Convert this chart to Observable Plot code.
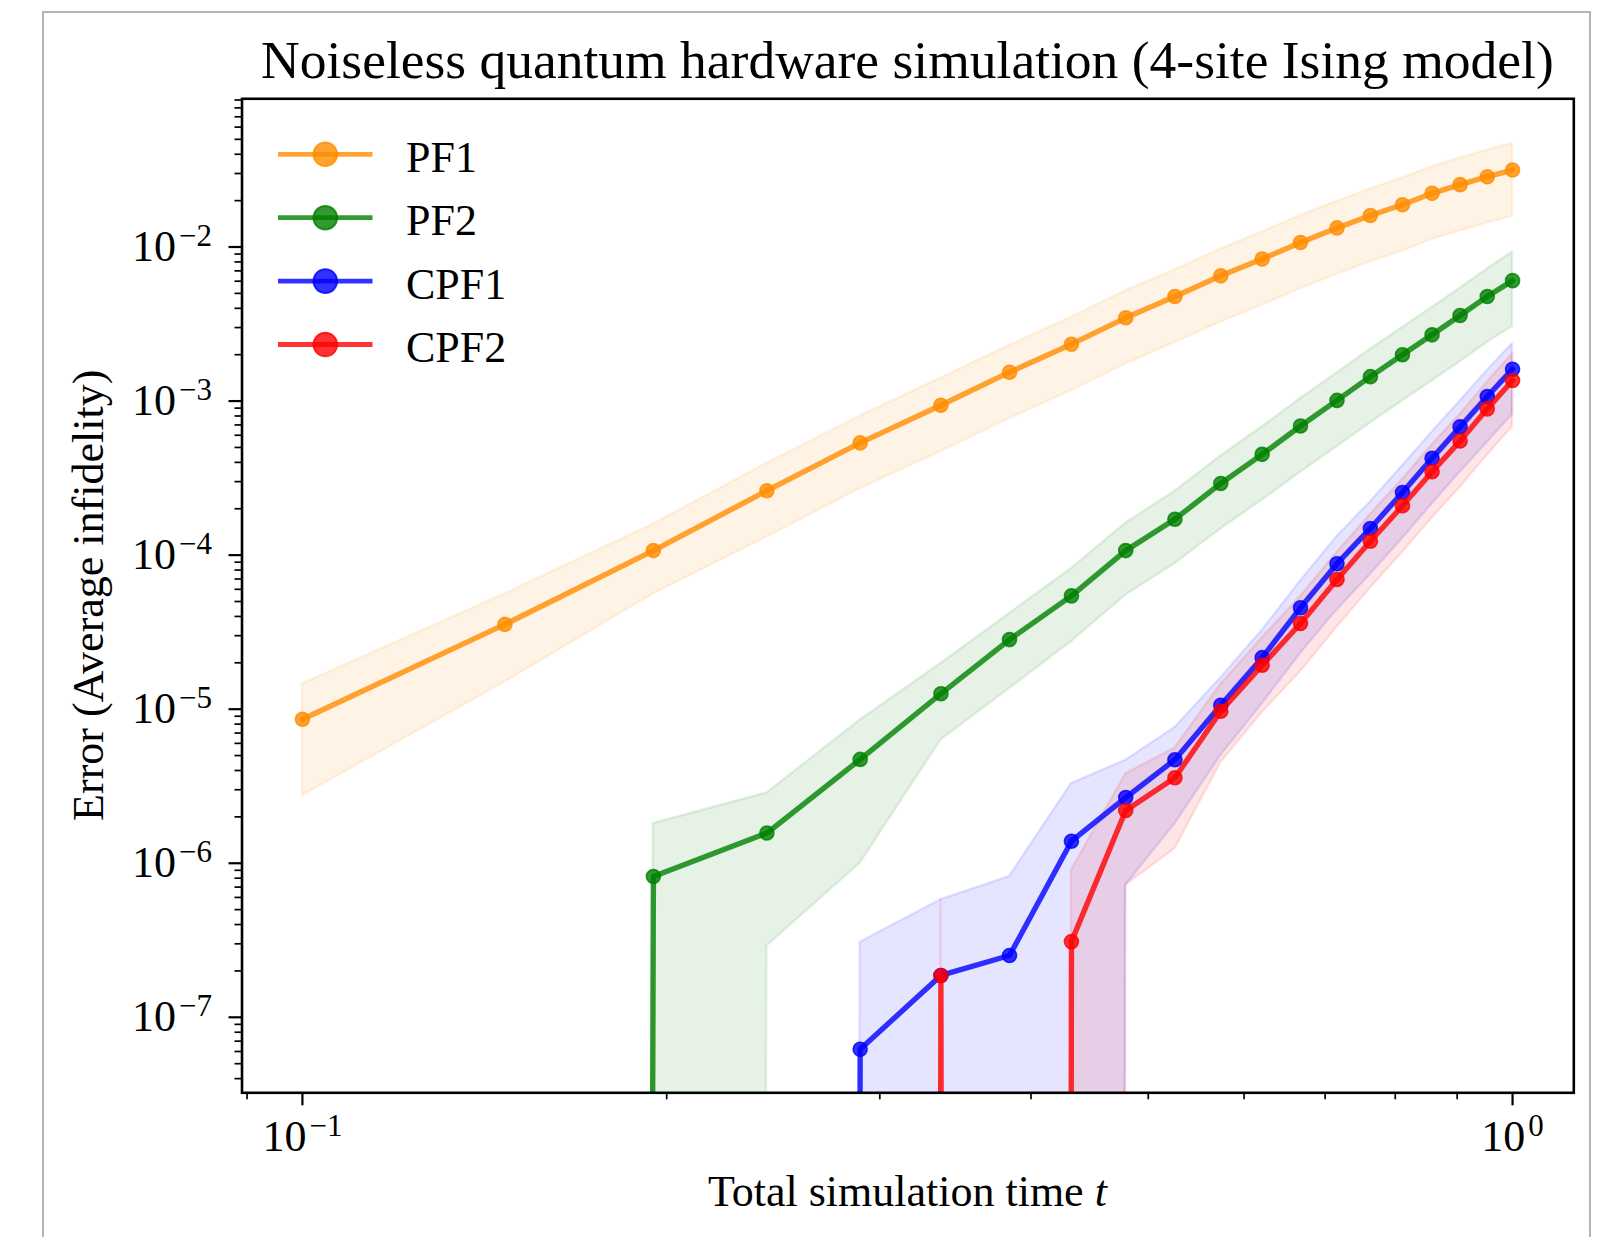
<!DOCTYPE html>
<html>
<head>
<meta charset="utf-8">
<script src="https://cdn.jsdelivr.net/npm/d3@7"></script>
<script src="https://cdn.jsdelivr.net/npm/@observablehq/plot@0.6"></script>
<style>
html, body { margin: 0; padding: 0; background: #fff; }
#wrap { position: relative; width: 1615px; height: 1237px; overflow: hidden; background: #fff; }
#border { position: absolute; left: 42px; top: 11px; width: 1549px; height: 1400px; border: 2.5px solid #b4b4b4; box-sizing: border-box; }
#chart { position: absolute; left: 0; top: 0; }
</style>
</head>
<body>
<div id="wrap"><div id="border"></div><div id="chart"></div></div>
<script>
// ---------------- data ----------------
const times = [0.1, 0.147, 0.195, 0.242, 0.289, 0.337, 0.384, 0.432, 0.479, 0.526,
               0.574, 0.621, 0.668, 0.716, 0.763, 0.811, 0.858, 0.905, 0.953, 1.0];

const seriesNames = ["PF1", "PF2", "CPF1", "CPF2"];
const seriesColors = ["#ff8c00", "#008000", "#0000ff", "#ff0000"];

const pf1Mean  = [8.6e-6, 3.55e-5, 1.07e-4, 2.62e-4, 5.35e-4, 9.4e-4, 1.54e-3, 2.34e-3, 3.47e-3, 4.77e-3,
                  6.5e-3, 8.35e-3, 1.07e-2, 1.33e-2, 1.60e-2, 1.88e-2, 2.23e-2, 2.54e-2, 2.86e-2, 3.16e-2];
const pf1Upper = [1.46e-5, 5.6e-5, 1.59e-4, 3.94e-4, 8.0e-4, 1.41e-3, 2.3e-3, 3.5e-3, 5.2e-3, 7.1e-3,
                  9.7e-3, 1.25e-2, 1.6e-2, 1.98e-2, 2.38e-2, 2.8e-2, 3.32e-2, 3.78e-2, 4.25e-2, 4.7e-2];
const pf1Lower = [2.75e-6, 1.5e-5, 5.6e-5, 1.31e-4, 2.7e-4, 4.7e-4, 7.7e-4, 1.17e-3, 1.74e-3, 2.4e-3,
                  3.25e-3, 4.2e-3, 5.35e-3, 6.65e-3, 8.0e-3, 9.4e-3, 1.12e-2, 1.27e-2, 1.43e-2, 1.58e-2];

const pf2Mean  = [0, 0, 8.2e-7, 1.57e-6, 4.72e-6, 1.26e-5, 2.83e-5, 5.44e-5, 1.07e-4, 1.71e-4,
                  2.92e-4, 4.51e-4, 6.89e-4, 1.01e-3, 1.44e-3, 2.0e-3, 2.69e-3, 3.59e-3, 4.77e-3, 6.05e-3];
const pf2Upper = [0, 0, 1.81e-6, 2.86e-6, 8.5e-6, 1.98e-5, 4.18e-5, 8.2e-5, 1.61e-4, 2.6e-4,
                  4.4e-4, 6.8e-4, 1.04e-3, 1.52e-3, 2.17e-3, 3.0e-3, 4.05e-3, 5.4e-3, 7.2e-3, 9.3e-3];
const pf2Lower = [0, 0, 0, 2.9e-7, 1.0e-6, 6.3e-6, 1.36e-5, 2.74e-5, 5.5e-5, 8.8e-5,
                  1.48e-4, 2.27e-4, 3.45e-4, 5.05e-4, 7.2e-4, 1.0e-3, 1.35e-3, 1.8e-3, 2.4e-3, 3.05e-3];

const cpf1Mean  = [0, 0, 0, 0, 6.2e-8, 1.87e-7, 2.52e-7, 1.39e-6, 2.67e-6, 4.7e-6,
                   1.06e-5, 2.16e-5, 4.55e-5, 8.8e-5, 1.49e-4, 2.55e-4, 4.25e-4, 6.8e-4, 1.07e-3, 1.61e-3];
const cpf1Upper = [0, 0, 0, 0, 3.07e-7, 5.8e-7, 8.2e-7, 3.29e-6, 4.66e-6, 7.6e-6,
                   1.6e-5, 3.25e-5, 6.8e-5, 1.32e-4, 2.22e-4, 3.8e-4, 6.3e-4, 1.0e-3, 1.58e-3, 2.36e-3];
const cpf1Lower = [0, 0, 0, 0, 0, 0, 0, 0, 7.2e-7, 1.8e-6,
                   5.0e-6, 1.08e-5, 2.3e-5, 4.4e-5, 7.5e-5, 1.28e-4, 2.15e-4, 3.45e-4, 5.4e-4, 8.2e-4];

const cpf2Mean  = [0, 0, 0, 0, 0, 1.87e-7, 0, 3.1e-7, 2.2e-6, 3.59e-6,
                   9.7e-6, 1.93e-5, 3.6e-5, 6.95e-5, 1.23e-4, 2.09e-4, 3.48e-4, 5.5e-4, 8.9e-4, 1.36e-3];
const cpf2Upper = [0, 0, 0, 0, 0, 5.8e-7, 0, 9.0e-7, 3.8e-6, 5.6e-6,
                   1.45e-5, 2.9e-5, 5.4e-5, 1.04e-4, 1.84e-4, 3.1e-4, 5.2e-4, 8.2e-4, 1.33e-3, 2.03e-3];
const cpf2Lower = [0, 0, 0, 0, 0, 0, 0, 0, 7.2e-7, 1.24e-6,
                   4.5e-6, 9.5e-6, 1.75e-5, 3.4e-5, 6.1e-5, 1.04e-4, 1.74e-4, 2.75e-4, 4.45e-4, 6.8e-4];

const yMajorTicks = [1e-7, 1e-6, 1e-5, 1e-4, 1e-3, 1e-2];
const xMajorTicks = [0.1, 1];

const titleText = "Noiseless quantum hardware simulation (4-site Ising model)";
const xLabelText = "Total simulation time ";
const xLabelVar = "t";
const yLabelText = "Error (Average infidelity)";

// ---------------- layout ----------------
const W = 1615, H = 1237;
const frameL = 241.5, frameR = 1573.3, frameT = 98.3, frameB = 1092.3;
const xDomain = [0.08914, 1.1236];
const yDomain = [3.236e-8, 0.09162];

// minor ticks 2..9 x 10^k inside the domains
const minorIn = (dom, k0, k1) => {
  const out = [];
  for (let k = k0; k <= k1; k++) for (let m = 2; m <= 9; m++) {
    const v = m * Math.pow(10, k);
    if (v >= dom[0] && v <= dom[1]) out.push(v);
  }
  return out;
};
const yMinorTicks = minorIn(yDomain, -9, -1);
const xMinorTicks = minorIn(xDomain, -2, 0);

// non-positive values are clipped like matplotlib's log axis does
const FLOOR = 1e-300;
const pos = v => (v > 0 ? v : FLOOR);
const sets = [
  [pf1Mean, pf1Lower, pf1Upper],
  [pf2Mean, pf2Lower, pf2Upper],
  [cpf1Mean, cpf1Lower, cpf1Upper],
  [cpf2Mean, cpf2Lower, cpf2Upper]
];
const table = [];
seriesNames.forEach((name, s) => times.forEach((t, i) => table.push({
  series: name, t, y: pos(sets[s][0][i]), lo: pos(sets[s][1][i]), hi: pos(sets[s][2][i])
})));
const colorOf = Object.fromEntries(seriesNames.map((n, i) => [n, seriesColors[i]]));

const expText = d => {
  const e = Math.round(Math.log10(d));
  return "10^" + (e < 0 ? "\u2212" + (-e) : String(e));
};

const marks = [];
seriesNames.forEach(n => {
  const d = table.filter(r => r.series === n);
  marks.push(Plot.areaY(d, {x: "t", y1: "lo", y2: "hi", fill: colorOf[n], fillOpacity: 0.1,
    stroke: colorOf[n], strokeOpacity: 0.1, strokeWidth: 2.5, clip: true}));
});
seriesNames.forEach(n => {
  const d = table.filter(r => r.series === n);
  marks.push(Plot.line(d, {x: "t", y: "y", stroke: colorOf[n], strokeOpacity: 0.8, strokeWidth: 5.4, clip: true}));
  marks.push(Plot.dot(d, {x: "t", y: "y", r: 7, fill: colorOf[n], fillOpacity: 0.8,
    stroke: colorOf[n], strokeOpacity: 0.8, strokeWidth: 1.6, clip: true}));
});
marks.push(Plot.frame({stroke: "black", strokeWidth: 2.6}));
marks.push(Plot.axisY({anchor: "left", ticks: yMajorTicks, tickFormat: expText, tickSize: 13, tickPadding: 17, strokeWidth: 2.2, label: null}));
marks.push(Plot.axisY({anchor: "left", ticks: yMinorTicks, tickFormat: () => "", tickSize: 7, strokeWidth: 1.7, label: null}));
marks.push(Plot.axisX({anchor: "bottom", ticks: xMajorTicks, tickFormat: expText, tickSize: 13, tickPadding: 13.5, strokeWidth: 2.2, label: null}));
marks.push(Plot.axisX({anchor: "bottom", ticks: xMinorTicks, tickFormat: () => "", tickSize: 7, strokeWidth: 1.7, label: null}));

const chart = Plot.plot({
  width: W, height: H,
  marginLeft: frameL, marginRight: W - frameR, marginTop: frameT, marginBottom: H - frameB,
  style: {fontFamily: "'Liberation Serif', 'Times New Roman', serif", fontSize: "44px", background: "transparent", overflow: "visible"},
  x: {type: "log", domain: xDomain},
  y: {type: "log", domain: yDomain},
  marks
});
document.getElementById("chart").appendChild(chart);

const svg = d3.select(chart);

// superscript exponents on tick labels
svg.selectAll('[aria-label="y-axis tick label"] text, [aria-label="x-axis tick label"] text').each(function() {
  const s = this.textContent;
  if (!s || s.indexOf("^") < 0) return;
  const [base, ex] = s.split("^");
  const el = d3.select(this);
  el.text(null);
  el.append("tspan").text(base);
  el.append("tspan").attr("dx", 3).attr("dy", -15).attr("font-size", 31).text(ex);
});

const cx = (frameL + frameR) / 2, cy = (frameT + frameB) / 2;

// title
svg.append("text").attr("x", cx).attr("y", 78.3).attr("text-anchor", "middle")
  .attr("font-size", 53.5).attr("fill", "black").text(titleText);

// x label
const xl = svg.append("text").attr("x", cx).attr("y", 1206).attr("text-anchor", "middle")
  .attr("font-size", 44).attr("fill", "black");
xl.append("tspan").text(xLabelText);
xl.append("tspan").attr("font-style", "italic").text(xLabelVar);

// y label
svg.append("text").attr("transform", `translate(103,${cy}) rotate(-90)`).attr("text-anchor", "middle")
  .attr("font-size", 44).attr("fill", "black").text(yLabelText);

// legend
const lg = svg.append("g").attr("text-anchor", "start");
seriesNames.forEach((n, i) => {
  const ry = 154.3 + i * 63.4;
  const c = colorOf[n];
  lg.append("line").attr("x1", 278).attr("x2", 372.5).attr("y1", ry).attr("y2", ry)
    .attr("stroke", c).attr("stroke-opacity", 0.8).attr("stroke-width", 4.8);
  lg.append("circle").attr("cx", 325.3).attr("cy", ry).attr("r", 11.8)
    .attr("fill", c).attr("fill-opacity", 0.8).attr("stroke", c).attr("stroke-opacity", 0.8).attr("stroke-width", 2);
  lg.append("text").attr("x", 406).attr("y", ry + 17.5).attr("text-anchor", "start")
    .attr("font-size", 44).attr("fill", "black").text(n);
});
</script>
</body>
</html>
